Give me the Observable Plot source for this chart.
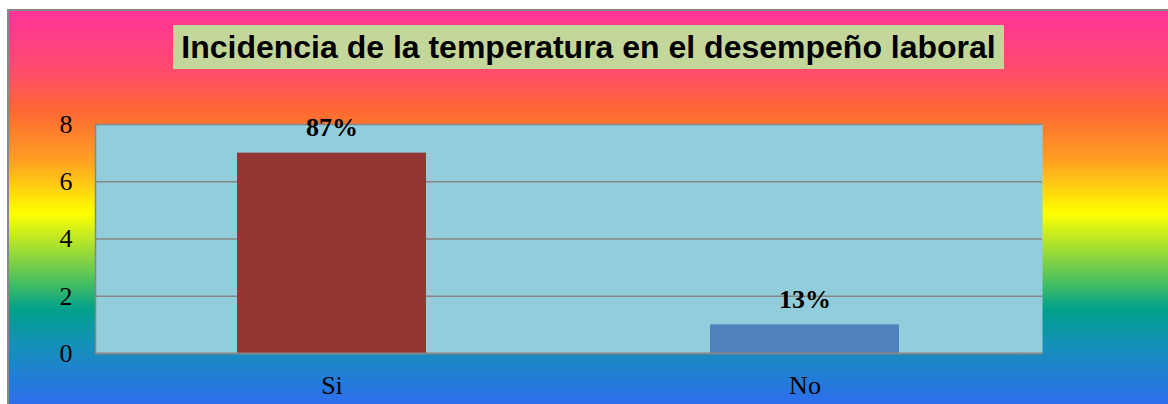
<!DOCTYPE html>
<html>
<head>
<meta charset="utf-8">
<script src="https://cdn.jsdelivr.net/npm/d3@7"></script>
<script src="https://cdn.jsdelivr.net/npm/@observablehq/plot@0.6"></script>
<style>
  html, body { margin: 0; padding: 0; background: #fff; }
  #chart { position: relative; width: 1168px; height: 404px; overflow: hidden; background: #fff; }
  #bg {
    position: absolute; left: 7px; top: 9px; right: 0; bottom: 0;
    border-left: 2px solid #888; border-top: 2px solid #888;
    background: linear-gradient(to bottom,
      #FF3399 0%, #FF4C6E 15%, #FF6633 25%, #FFA022 38%, #FFFF00 51.5%,
      #A8E030 60%, #3DBB66 70%, #00A08C 76%, #1490B8 85%, #2E6EEE 100%);
  }
  #title {
    position: absolute; left: 173px; top: 25px; width: 831px; height: 44px;
    background: #C4D79B; font-family: "Liberation Sans", Arial, sans-serif;
    font-weight: bold; font-size: 32px; line-height: 44px; text-align: center; color: #000;
    white-space: nowrap;
  }
  #plot { position: absolute; left: 0; top: 80px; }
</style>
</head>
<body>
<div id="chart">
  <div id="bg"></div>
  <div id="title">Incidencia de la temperatura en el desempeño laboral</div>
  <div id="plot"></div>
</div>
<script>
const categories = ["Si", "No"];
const values = [7, 1];
const labels = ["87%", "13%"];
const barColors = ["#943634", "#4F81BD"];
const yTicks = [0, 2, 4, 6, 8];
const gridLines = [2, 4, 6, 8];

const data = categories.map((c, i) => ({cat: c, value: values[i], label: labels[i], color: barColors[i]}));

const chart = Plot.plot({
  width: 1168,
  height: 324,
  marginLeft: 95,
  marginRight: 126,
  marginTop: 44,
  marginBottom: 51,
  style: {background: "transparent", fontFamily: "'Liberation Serif', 'Times New Roman', serif", fontSize: "26px", color: "#000", overflow: "visible"},
  x: {domain: categories, paddingInner: 0.6, paddingOuter: 0.3, label: null, tickSize: 0, tickPadding: 22},
  y: {domain: [0, 8], ticks: yTicks, label: null, tickSize: 0, tickPadding: 23},
  color: {type: "identity"},
  marks: [
    Plot.frame({fill: "#92CDDC"}),
    Plot.ruleY(gridLines, {stroke: "#868686", strokeWidth: 1.5}),
    Plot.frame({anchor: "left", stroke: "#868686", strokeWidth: 1.5}),
    Plot.barY(data, {x: "cat", y: "value", fill: "color"}),
    Plot.ruleY([0], {stroke: "#868686", strokeWidth: 2}),
    Plot.text(data, {x: "cat", y: "value", text: "label", dy: -17, lineAnchor: "bottom", fontWeight: "bold", fontSize: 26})
  ]
});
document.getElementById("plot").appendChild(chart);
</script>
</body>
</html>
